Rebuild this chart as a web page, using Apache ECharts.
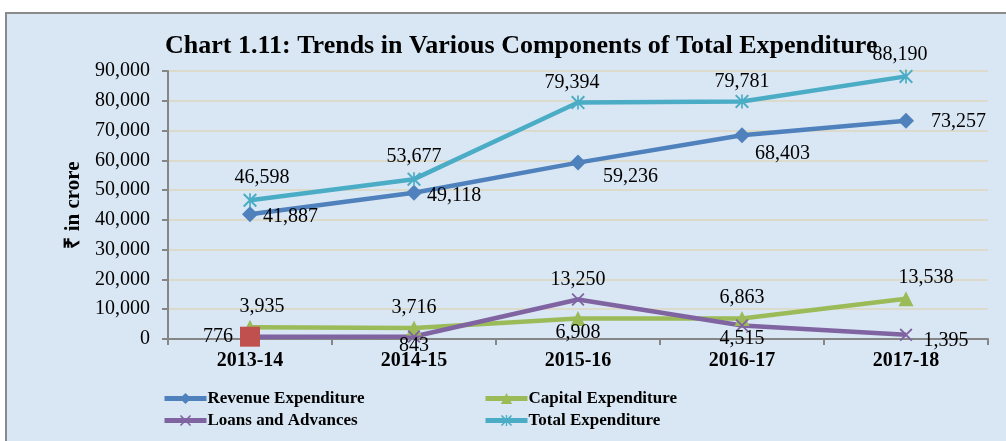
<!DOCTYPE html>
<html>
<head>
<meta charset="utf-8">
<script src="https://cdn.jsdelivr.net/npm/echarts@6/dist/echarts.min.js"></script>
<style>
  html, body { margin: 0; padding: 0; background: #fff; }
  #chart { width: 1006px; height: 441px; }
</style>
</head>
<body>
<div id="chart"></div>
<script>
// chart data
const years = ['2013-14', '2014-15', '2015-16', '2016-17', '2017-18']
const revenueExp = [41887, 49118, 59236, 68403, 73257]
const capitalExp = [3935, 3716, 6908, 6863, 13538]
const loansAdv = [776, 843, 13250, 4515, 1395]
const totalExp = [46598, 53677, 79394, 79781, 88190]

const serif = '"Liberation Serif", "Times New Roman", serif'
const fmt = v => v.toLocaleString('en-US')

const xSym = 'path://M0,1 L1,0 L5,4 L9,0 L10,1 L6,5 L10,9 L9,10 L5,6 L1,10 L0,9 L4,5 Z'
const starSym = 'path://M0,1 L1,0 L10,9 L9,10 Z M9,0 L10,1 L1,10 L0,9 Z M4.4,0 L5.6,0 L5.6,10 L4.4,10 Z'

// label placement per point (position, offset)
const revPos = [['right', [0, 2]], ['right', [0, 3]], ['right', [12, 14]], ['right', [0, 18]], ['right', [12, 1]]]
const capPos = [['top', [12, 2]], ['top', [0, 2]], ['bottom', [0, -8]], ['top', [0, 2]], ['top', [20, 2]]]
const loanPos = [['left', [-2, 0]], ['bottom', [0, -12]], ['top', [0, 2]], ['bottom', [0, -8]], ['right', [6, 6]]]
const totPos = [['top', [12, 0]], ['top', [0, 0]], ['top', [-6, 2]], ['top', [0, 2]], ['top', [-6, 0]]]

function items (values, pos) {
  return values.map((v, i) => ({
    value: v,
    label: { position: pos[i][0], offset: pos[i][1] }
  }))
}

const labelStyle = {
  show: true,
  color: '#000',
  fontFamily: serif,
  fontSize: 20,
  formatter: p => fmt(p.value)
}

const loanItems = items(loansAdv, loanPos)
// first marker of the loans line shows as a red square in the original
loanItems[0].symbol = 'rect'
loanItems[0].symbolSize = 20
loanItems[0].itemStyle = { color: '#c0504d' }

const legendText = { fontFamily: serif, fontSize: 17, fontWeight: 'bold', color: '#000', padding: [0, 0, 0, -4] }

const chart = echarts.init(document.getElementById('chart'))
chart.setOption({
  animation: false,
  backgroundColor: '#fff',
  graphic: [{
    type: 'rect',
    z: -10,
    shape: { x: 6, y: 13, width: 1010, height: 440 },
    style: { fill: '#d9e7f4', stroke: '#8a8a8a', lineWidth: 2 }
  }],
  title: {
    text: 'Chart 1.11: Trends in Various Components of Total Expenditure',
    left: 160,
    top: 28,
    textStyle: { fontFamily: serif, fontSize: 26, fontWeight: 'bold', color: '#000' }
  },
  grid: { left: 168, right: 18, top: 71, bottom: 102 },
  legend: [{
    left: 157,
    top: 385,
    orient: 'vertical',
    itemWidth: 42,
    itemHeight: 14,
    itemGap: 5,
    lineStyle: { width: 5 },
    textStyle: legendText,
    data: ['Revenue Expenditure', 'Loans and Advances']
  }, {
    left: 478,
    top: 385,
    orient: 'vertical',
    itemWidth: 42,
    itemHeight: 14,
    itemGap: 5,
    lineStyle: { width: 5 },
    textStyle: legendText,
    data: ['Capital Expenditure', 'Total Expenditure']
  }],
  xAxis: {
    type: 'category',
    data: years,
    boundaryGap: true,
    axisLine: { lineStyle: { color: '#868686', width: 2 } },
    axisTick: { show: true, length: 6, lineStyle: { color: '#868686', width: 2 } },
    axisLabel: { color: '#000', fontFamily: serif, fontSize: 20, fontWeight: 'bold', margin: 12 }
  },
  yAxis: {
    type: 'value',
    min: 0,
    max: 90000,
    interval: 10000,
    name: '₹ in crore',
    nameLocation: 'middle',
    nameGap: 84,
    nameTextStyle: { color: '#000', fontFamily: serif, fontSize: 21, fontWeight: 'bold' },
    axisLine: { show: true, lineStyle: { color: '#868686', width: 2 } },
    axisTick: { show: true, length: 6, lineStyle: { color: '#868686', width: 2 } },
    axisLabel: { color: '#000', fontFamily: serif, fontSize: 20, margin: 18, formatter: v => fmt(v) },
    splitLine: { lineStyle: { color: '#ddd6bd', width: 1.5 } }
  },
  series: [{
    name: 'Revenue Expenditure',
    type: 'line',
    data: items(revenueExp, revPos),
    symbol: 'diamond',
    symbolSize: 16,
    color: '#4f81bd',
    lineStyle: { width: 4.5 },
    label: labelStyle
  }, {
    name: 'Capital Expenditure',
    type: 'line',
    data: items(capitalExp, capPos),
    symbol: 'triangle',
    symbolSize: 15,
    color: '#9bbb59',
    lineStyle: { width: 4.5 },
    label: labelStyle
  }, {
    name: 'Loans and Advances',
    type: 'line',
    data: loanItems,
    symbol: xSym,
    symbolSize: 13,
    color: '#8064a2',
    lineStyle: { width: 4.5 },
    label: labelStyle
  }, {
    name: 'Total Expenditure',
    type: 'line',
    data: items(totalExp, totPos),
    symbol: starSym,
    symbolSize: 14,
    color: '#4bacc6',
    lineStyle: { width: 4.5 },
    label: labelStyle
  }]
})
</script>
</body>
</html>
